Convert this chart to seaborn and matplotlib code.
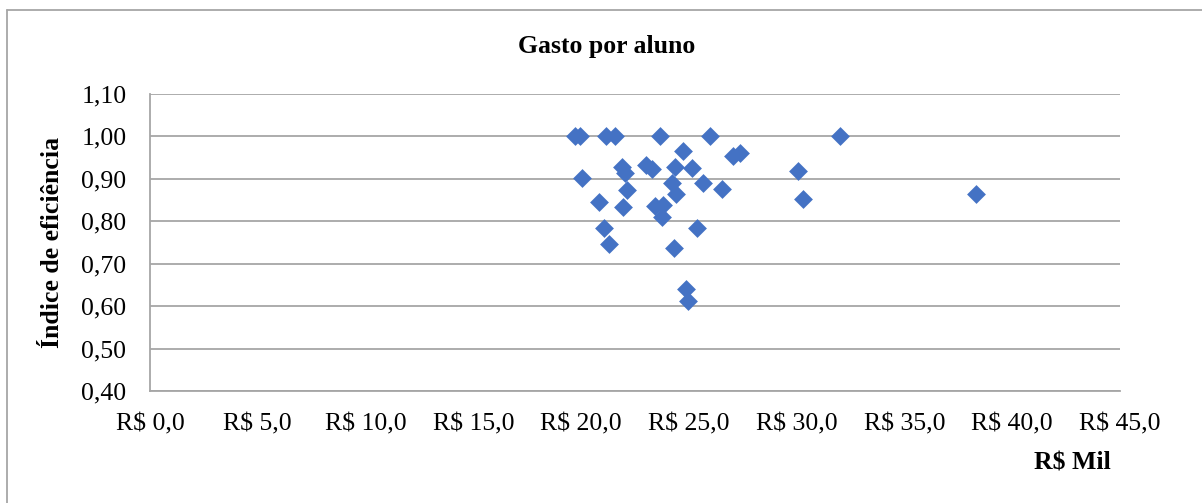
import pandas as pd
import seaborn as sns
import matplotlib.pyplot as plt
from matplotlib.lines import Line2D

# gasto por aluno (R$ mil) x indice de eficiencia
gasto = [19.72, 19.95, 21.15, 21.57, 23.66, 25.98, 32.01, 24.73, 27.05, 27.37,
         21.90, 22.04, 23.01, 23.29, 24.36, 25.14, 30.06, 20.04, 24.22, 25.65,
         26.54, 22.13, 24.40, 30.29, 38.32, 20.83, 21.94, 23.43, 23.80, 23.75,
         21.06, 21.29, 25.38, 24.31, 24.87, 24.96]
eficiencia = [1.00, 1.00, 1.00, 1.00, 1.00, 1.00, 1.00, 0.966, 0.954, 0.961,
              0.928, 0.914, 0.933, 0.923, 0.928, 0.926, 0.919, 0.902, 0.890, 0.890,
              0.876, 0.874, 0.864, 0.853, 0.864, 0.845, 0.834, 0.836, 0.838, 0.810,
              0.784, 0.746, 0.784, 0.737, 0.640, 0.612]

xticks = [0, 5, 10, 15, 20, 25, 30, 35, 40, 45]
xlabels = ["R$ 0,0", "R$ 5,0", "R$ 10,0", "R$ 15,0", "R$ 20,0", "R$ 25,0",
           "R$ 30,0", "R$ 35,0", "R$ 40,0", "R$ 45,0"]
yticks = [0.40, 0.50, 0.60, 0.70, 0.80, 0.90, 1.00, 1.10]
ylabels = ["0,40", "0,50", "0,60", "0,70", "0,80", "0,90", "1,00", "1,10"]

df = pd.DataFrame({"gasto": gasto, "eficiencia": eficiencia})

sns.set_style("white")
plt.rcParams["font.family"] = ["Liberation Serif", "DejaVu Serif"]
plt.rcParams["text.color"] = "black"
plt.rcParams["xtick.color"] = "black"
plt.rcParams["ytick.color"] = "black"

W, H = 1202, 503
fig = plt.figure(figsize=(W / 100, H / 100), dpi=100)
ax = fig.add_axes([150 / W, (H - 391) / H, (1120 - 150) / W, (391 - 94) / H])

grid = "#a6a6a6"
for t in yticks:
    ax.axhline(t, color=grid, lw=1.3, zorder=1)

sns.scatterplot(data=df, x="gasto", y="eficiencia", marker="D", s=92,
                color="#4472c4", linewidth=0, ax=ax, zorder=3)

ax.set_xlim(0, 45)
ax.set_ylim(0.40, 1.10)
ax.set_xticks(xticks)
ax.set_xticklabels(xlabels)
ax.set_yticks(yticks)
ax.set_yticklabels(ylabels)
ax.tick_params(axis="x", labelsize=18.5, length=0, pad=16, labelcolor="black")
ax.tick_params(axis="y", labelsize=18.5, length=0, pad=17, labelcolor="black")
for s in ["top", "right"]:
    ax.spines[s].set_visible(False)
for s in ["left", "bottom"]:
    ax.spines[s].set_color(grid)
    ax.spines[s].set_linewidth(1.3)
ax.set_xlabel("")
ax.set_ylabel("")

fig.text(607 / W, 1 - 46 / H, "Gasto por aluno", ha="center", va="center",
         fontsize=18.5, fontweight="bold", color="black")
fig.text(53 / W, 1 - 242 / H, "Índice de eficiência", ha="center", va="center",
         rotation=90, fontsize=18.5, fontweight="bold", color="black")
fig.text(1072 / W, 1 - 463 / H, "R$ Mil", ha="center", va="center",
         fontsize=18.5, fontweight="bold", color="black")

# moldura do grafico
fig.add_artist(Line2D([7 / W, 7 / W], [0, 1 - 10 / H], color=grid, lw=1.3,
                      transform=fig.transFigure))
fig.add_artist(Line2D([7 / W, 1], [1 - 10 / H, 1 - 10 / H], color=grid, lw=1.3,
                      transform=fig.transFigure))

fig.savefig("out.png", dpi=100)
